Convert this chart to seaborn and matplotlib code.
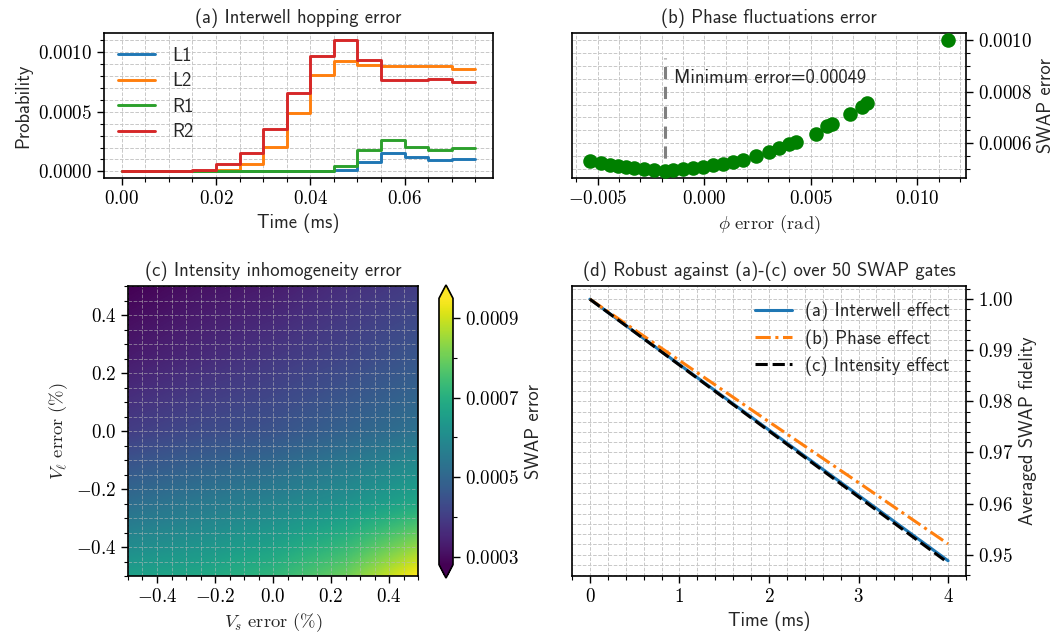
import numpy as np
import pandas as pd
import matplotlib
matplotlib.use("Agg")
import matplotlib.pyplot as plt
import matplotlib.ticker as mt
import seaborn as sns

# ---------------- data ----------------
# (a) interwell hopping
time_a = [0.000, 0.005, 0.010, 0.015, 0.020, 0.025, 0.030, 0.035,
          0.040, 0.045, 0.050, 0.055, 0.060, 0.065, 0.070, 0.075]
prob_L1 = [0, 0, 0, 0, 0, 0, 0, 0, 0, 0,
           0.000012, 0.000075, 0.000153, 0.000119, 0.000094, 0.000106]
prob_L2 = [0, 0, 0, 0, 0.000002, 0.000010, 0.000060, 0.000208, 0.000492,
           0.000806, 0.000928, 0.000889, 0.000881, 0.000883, 0.000880, 0.000858]
prob_R1 = [0, 0, 0, 0, 0.000004, 0.000004, 0.000004, 0.000004, 0.000004,
           0.000004, 0.000047, 0.000175, 0.000261, 0.000203, 0.000181, 0.000194]
prob_R2 = [0, 0, 0, 0, 0.000010, 0.000064, 0.000158, 0.000358, 0.000658,
           0.000964, 0.001103, 0.000936, 0.000761, 0.000764, 0.000770, 0.000750]
series_names = ["L1", "L2", "R1", "R2"]

# (b) phase fluctuations
phi_err = [-0.00537, -0.00485, -0.00445, -0.00407, -0.00368, -0.00329, -0.00282,
           -0.00235, -0.00183, -0.00148, -0.00101, -0.00054, -0.00008, 0.00039,
           0.00086, 0.00133, 0.00180, 0.00243, 0.00305, 0.00352, 0.00399, 0.00430,
           0.00524, 0.00578, 0.00602, 0.00683, 0.00739, 0.00766, 0.01145]
swap_err_b = [0.000530, 0.000521, 0.000516, 0.000511, 0.000507, 0.000503, 0.000500,
              0.000497, 0.000490, 0.000496, 0.000498, 0.000503, 0.000509, 0.000514,
              0.000520, 0.000527, 0.000535, 0.000549, 0.000566, 0.000580, 0.000595,
              0.000606, 0.000637, 0.000665, 0.000675, 0.000713, 0.000742, 0.000758,
              0.001003]
phi_min = -0.00183
min_label = "Minimum error=0.00049"

# (c) intensity inhomogeneity (rows: V_l = 0.5 ... -0.5, cols: V_s = -0.5 ... 0.5)
vs_vals = [-0.5, -0.25, 0.0, 0.25, 0.5]
vl_vals = [0.5, 0.25, 0.0, -0.25, -0.5]
swap_err_c = [[0.00028, 0.00031, 0.00033, 0.00037, 0.00040],
              [0.00033, 0.00036, 0.00039, 0.00042, 0.00046],
              [0.00040, 0.00043, 0.00045, 0.00049, 0.00053],
              [0.00052, 0.00055, 0.00058, 0.00062, 0.00068],
              [0.00066, 0.00068, 0.00072, 0.00080, 0.00095]]
c_vmin, c_vmax = 0.00028, 0.00095

# (d) fidelity over 50 SWAP gates
time_d = [0, 1, 2, 3, 4]
fid_interwell = [1.0, 0.9872, 0.9744, 0.9616, 0.9488]
fid_phase = [1.0, 0.9880, 0.9760, 0.9641, 0.9521]
fid_intensity = [1.0, 0.9871, 0.9742, 0.9613, 0.9484]
labels_d = ["(a) Interwell effect", "(b) Phase effect", "(c) Intensity effect"]

# ---------------- style ----------------
FS = 13.4
TFS = 13.7
sns.set_theme(style="ticks")
plt.rcParams.update({
    "font.family": ["cmss10", "DejaVu Sans"],
    "mathtext.fontset": "cm",
    "axes.unicode_minus": True,
    "axes.linewidth": 1.2,
    "xtick.direction": "out",
    "ytick.direction": "out",
    "xtick.major.size": 5, "ytick.major.size": 5,
    "xtick.minor.size": 3, "ytick.minor.size": 3,
    "xtick.major.width": 1.0, "ytick.major.width": 1.0,
    "xtick.minor.width": 0.8, "ytick.minor.width": 0.8,
    "xtick.color": "black", "ytick.color": "black",
    "axes.edgecolor": "black",
    "axes.labelsize": FS,
    "axes.titlesize": FS,
    "xtick.labelsize": TFS,
    "ytick.labelsize": TFS,
    "legend.fontsize": FS,
})

def mfmt(fmt):
    return mt.FuncFormatter(lambda v, p: "$" + (fmt % v) + "$")

def style_grid(ax, color="#c8c8c8", alpha=1.0):
    ax.grid(True, which="both", ls="--", lw=0.7, color=color, alpha=alpha)

fig = plt.figure(figsize=(10.59, 6.41), dpi=100)

W, H = 1059.0, 641.0
def box(l, t, r, b):
    return [l / W, (H - b) / H, (r - l) / W, (b - t) / H]

ax_a = fig.add_axes(box(104, 33, 493, 178))
ax_b = fig.add_axes(box(572, 33, 966, 178))
ax_c = fig.add_axes(box(128, 286, 418, 576))
cax = fig.add_axes(box(439, 285, 453, 578))
ax_d = fig.add_axes(box(572, 286, 966, 576))

# ---------------- (a) ----------------
df_a = pd.DataFrame({
    "Time": time_a * 4,
    "Probability": prob_L1 + prob_L2 + prob_R1 + prob_R2,
    "state": sum([[n] * len(time_a) for n in series_names], []),
})
pal_a = ["#1f77b4", "#ff7f0e", "#2ca02c", "#d62728"]
sns.lineplot(data=df_a, x="Time", y="Probability", hue="state", palette=pal_a,
             drawstyle="steps-pre", lw=2.1, ax=ax_a, estimator=None)
ax_a.legend(loc="upper left", frameon=False, handlelength=2.0, labelspacing=0.4,
            borderaxespad=0.35, handletextpad=0.9)
ax_a.set_title("(a) Interwell hopping error", pad=7)
ax_a.set_xlabel("Time (ms)")
ax_a.set_ylabel("Probability")
ax_a.xaxis.set_major_locator(mt.MultipleLocator(0.02))
ax_a.xaxis.set_minor_locator(mt.MultipleLocator(0.005))
ax_a.yaxis.set_major_locator(mt.MultipleLocator(0.0005))
ax_a.yaxis.set_minor_locator(mt.MultipleLocator(0.0001))
ax_a.xaxis.set_major_formatter(mfmt("%.2f"))
ax_a.yaxis.set_major_formatter(mfmt("%.4f"))
style_grid(ax_a)

# ---------------- (b) ----------------
df_b = pd.DataFrame({"phi": phi_err, "err": swap_err_b})
sns.scatterplot(data=df_b, x="phi", y="err", color="green", s=110, linewidth=0,
                ax=ax_b, zorder=3)
ax_b.axvline(phi_min, ymin=0, ymax=0.83, color="gray", ls=(0, (4, 2.5)), lw=2.2)
ax_b.text(phi_min + 0.0004, 0.000853, min_label, fontsize=FS, va="center", ha="left")
ax_b.set_title("(b) Phase fluctuations error", pad=7)
ax_b.set_xlabel(r"$\phi\ \mathrm{error\ (rad)}$")
ax_b.set_ylabel("SWAP error")
ax_b.yaxis.tick_right()
ax_b.yaxis.set_label_position("right")
ax_b.xaxis.set_major_locator(mt.MultipleLocator(0.005))
ax_b.xaxis.set_minor_locator(mt.MultipleLocator(0.001))
ax_b.yaxis.set_major_locator(mt.MultipleLocator(0.0002))
ax_b.yaxis.set_minor_locator(mt.MultipleLocator(0.00005))
ax_b.xaxis.set_major_formatter(mfmt("%.3f"))
ax_b.yaxis.set_major_formatter(mfmt("%.4f"))
style_grid(ax_b)

# ---------------- (c) ----------------
half = (vs_vals[1] - vs_vals[0]) / 2
im = ax_c.imshow(np.array(swap_err_c), cmap="viridis", vmin=c_vmin, vmax=c_vmax,
                 interpolation="bilinear", origin="upper",
                 extent=[vs_vals[0] - half, vs_vals[-1] + half,
                         vl_vals[-1] - half, vl_vals[0] + half], zorder=0)
ax_c.set_xlim(vs_vals[0], vs_vals[-1])
ax_c.set_ylim(vl_vals[-1], vl_vals[0])
ax_c.set_title("(c) Intensity inhomogeneity error", pad=7)
ax_c.set_xlabel(r"$V_s\ \mathrm{error\ (\%)}$")
ax_c.set_ylabel(r"$V_\ell\ \mathrm{error\ (\%)}$")
for axis in (ax_c.xaxis, ax_c.yaxis):
    axis.set_major_locator(mt.MultipleLocator(0.2))
    axis.set_minor_locator(mt.MultipleLocator(0.05))
    axis.set_major_formatter(mfmt("%.1f"))
ax_c.grid(True, which="both", ls="--", lw=0.7, color="#bbbbbb", alpha=0.55)
cb = fig.colorbar(im, cax=cax, extend="both")
cb.set_ticks([0.0003, 0.0005, 0.0007, 0.0009])
cb.ax.yaxis.set_minor_locator(mt.MultipleLocator(0.0001))
cb.ax.yaxis.set_major_formatter(mfmt("%.4f"))
cb.set_label("SWAP error", fontsize=FS)
cb.outline.set_linewidth(1.2)

# ---------------- (d) ----------------
df_d = pd.DataFrame({
    "Time": time_d * 3,
    "Fidelity": fid_interwell + fid_phase + fid_intensity,
    "effect": sum([[n] * len(time_d) for n in labels_d], []),
})
sns.lineplot(data=df_d, x="Time", y="Fidelity", hue="effect", style="effect",
             palette=["#1f77b4", "#ff7f0e", "black"],
             dashes={labels_d[0]: "", labels_d[1]: (5, 1.5, 1, 1.5), labels_d[2]: (4, 1.6)},
             lw=2.2, ax=ax_d, estimator=None)
ax_d.legend(loc="upper right", frameon=False, handlelength=2.0, labelspacing=0.42,
            borderaxespad=0.45, handletextpad=0.7)
ax_d.set_title("(d) Robust against (a)-(c) over 50 SWAP gates", pad=7)
ax_d.set_xlabel("Time (ms)")
ax_d.set_ylabel("Averaged SWAP fidelity")
ax_d.yaxis.tick_right()
ax_d.yaxis.set_label_position("right")
ax_d.xaxis.set_major_locator(mt.MultipleLocator(1))
ax_d.xaxis.set_minor_locator(mt.MultipleLocator(0.2))
ax_d.yaxis.set_major_locator(mt.MultipleLocator(0.01))
ax_d.yaxis.set_minor_locator(mt.MultipleLocator(0.002))
ax_d.xaxis.set_major_formatter(mfmt("%d"))
ax_d.yaxis.set_major_formatter(mfmt("%.2f"))
style_grid(ax_d)

for ax in (ax_a, ax_b, ax_d):
    for s in ax.spines.values():
        s.set_linewidth(1.2)
        s.set_visible(True)

fig.savefig("out.png", dpi=100)
